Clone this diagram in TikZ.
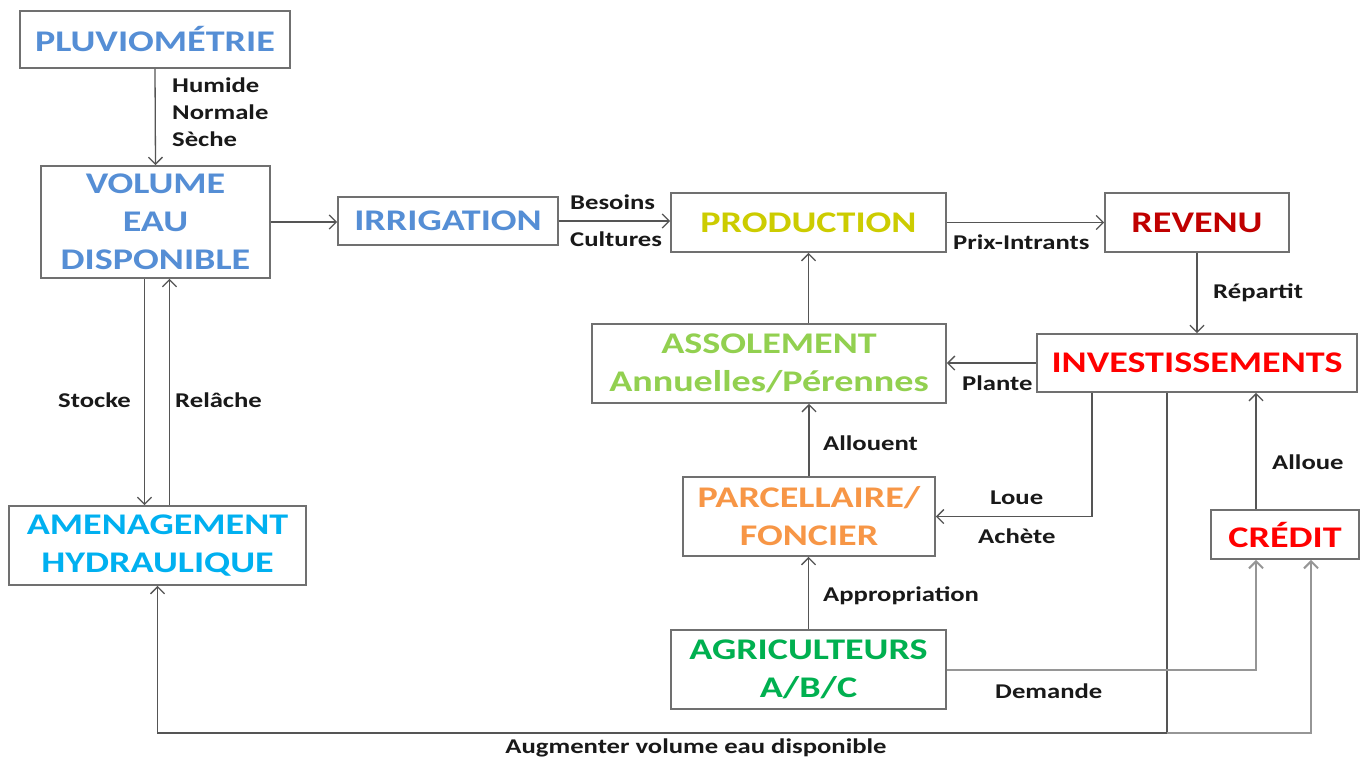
\documentclass[tikz,border=0pt]{standalone}
\usepackage{fontspec}
\setmainfont{Carlito}[FakeStretch=1.27]
\usetikzlibrary{arrows.meta}
\definecolor{cblue}{RGB}{85,142,213}
\definecolor{cyellow}{RGB}{204,204,0}
\definecolor{cdarkred}{RGB}{192,0,0}
\definecolor{clightgreen}{RGB}{146,208,80}
\definecolor{cred}{RGB}{255,0,0}
\definecolor{corange}{RGB}{247,150,70}
\definecolor{cgreen}{RGB}{0,176,80}
\definecolor{ccyan}{RGB}{0,176,240}
\definecolor{boxgray}{RGB}{112,112,112}
\definecolor{linegray}{RGB}{85,85,85}
\definecolor{lightline}{RGB}{150,150,150}
\definecolor{labcol}{RGB}{25,25,25}
\begin{document}
\begin{tikzpicture}[x=1pt,y=-1pt,
  box/.style={draw=boxgray, line width=1.8pt, inner sep=0pt, align=center, font=\fontsize{30}{38}\selectfont\bfseries},
  lab/.style={inner sep=0pt, anchor=west, text=labcol, font=\fontsize{21}{27}\selectfont\bfseries, align=left},
  arr/.style={draw=linegray, line width=1.3pt, -{Straight Barb[length=7pt,width=14pt]}},
  arrlight/.style={draw=lightline, line width=2pt, -{Straight Barb[length=7pt,width=14pt]}},
  ln/.style={draw=linegray, line width=1.3pt}]
\useasboundingbox[fill=white] (0,0) rectangle (1362,758);
% boxes
\node[box, text=cblue, minimum width=270pt, minimum height=57pt] (pluv) at (155,39.5) {PLUVIOMÉTRIE};
\node[box, text=cblue, minimum width=229pt, minimum height=112pt] (vol) at (155.5,222) {VOLUME\\EAU\\DISPONIBLE};
\node[box, text=cblue, minimum width=220pt, minimum height=48pt] (irr) at (448,221) {IRRIGATION};
\node[box, text=cyellow, minimum width=275pt, minimum height=59pt] (prod) at (808.5,222.5) {PRODUCTION};
\node[box, text=cdarkred, minimum width=184pt, minimum height=59pt] (rev) at (1197,222.5) {REVENU};
\node[box, text=clightgreen, minimum width=354pt, minimum height=79pt] (asso) at (769,363.5) {ASSOLEMENT\\Annuelles/Pérennes};
\node[box, text=cred, minimum width=320pt, minimum height=58pt] (inv) at (1197,363) {INVESTISSEMENTS};
\node[box, text=corange, minimum width=252pt, minimum height=79pt] (parc) at (809,516.5) {PARCELLAIRE/\\FONCIER};
\node[box, text=cred, minimum width=148pt, minimum height=49pt] (cred) at (1285,534.5) {CRÉDIT};
\node[box, text=cgreen, minimum width=275pt, minimum height=79pt] (agri) at (808.5,669.5) {AGRICULTEURS\\A/B/C};
\node[box, text=ccyan, minimum width=297pt, minimum height=79pt] (amen) at (157.5,545.5) {AMENAGEMENT\\HYDRAULIQUE};
% connectors
\draw[arr] (pluv.south) -- (vol.north);
\draw[arr] (vol.east) -- (vol.east -| irr.west);
\draw[arr] (irr.east) -- (irr.east -| prod.west);
\draw[arr] (prod.east) -- (prod.east -| rev.west);
\draw[arr] (rev.south) -- (inv.north);
\draw[arr] (inv.west) -- (inv.west -| asso.east);
\draw[arr] (prod.south |- asso.north) -- (prod.south);
\draw[arr] (parc.north) -- (parc.north |- asso.south);
\draw[arr] (agri.north) -- (agri.north |- parc.south);
\draw[arr] ([xshift=-105pt]inv.south) |- (parc.east);
\draw[arr] ([xshift=-29pt]cred.north) -- ([xshift=-29pt]cred.north |- inv.south);
\draw[arr] ([xshift=-11pt]vol.south) -- ([xshift=-11pt]vol.south |- amen.north);
\draw[arr] ([xshift=14pt]vol.south |- amen.north) -- ([xshift=14pt]vol.south);
\coordinate (bot) at (1167,733);
\draw[ln] (inv.south -| bot) -- (bot);
\draw[arr] (bot) -| (amen.south);
\draw[arrlight] (agri.east) -| ([xshift=-29pt]cred.south);
\draw[arrlight] (bot) -| ([xshift=26pt]cred.south);
% labels
\node[lab] (l1) at (172,112) {Humide\\Normale\\Sèche};
\node[lab] (l2) at (570,202) {Besoins};
\node[lab] (l3) at (570,239) {Cultures};
\node[lab] (l4) at (953,242) {Prix-Intrants};
\node[lab] (l5) at (1213,293) {Répartit};
\node[lab] (l6) at (962,383) {Plante};
\node[lab] (l7) at (823,443) {Allouent};
\node[lab] (l8) at (990,498) {Loue};
\node[lab] (l9) at (978,536) {Achète};
\node[lab] (l10) at (823,596) {Appropriation};
\node[lab] (l11) at (1272,462) {Alloue};
\node[lab] (l12) at (995,691) {Demande};
\node[lab] (l13) at (58,400) {Stocke};
\node[lab] (l14) at (175,400) {Relâche};
\node[lab, anchor=center] (l15) at (696,748) {Augmenter volume eau disponible};
\end{tikzpicture}
\end{document}
